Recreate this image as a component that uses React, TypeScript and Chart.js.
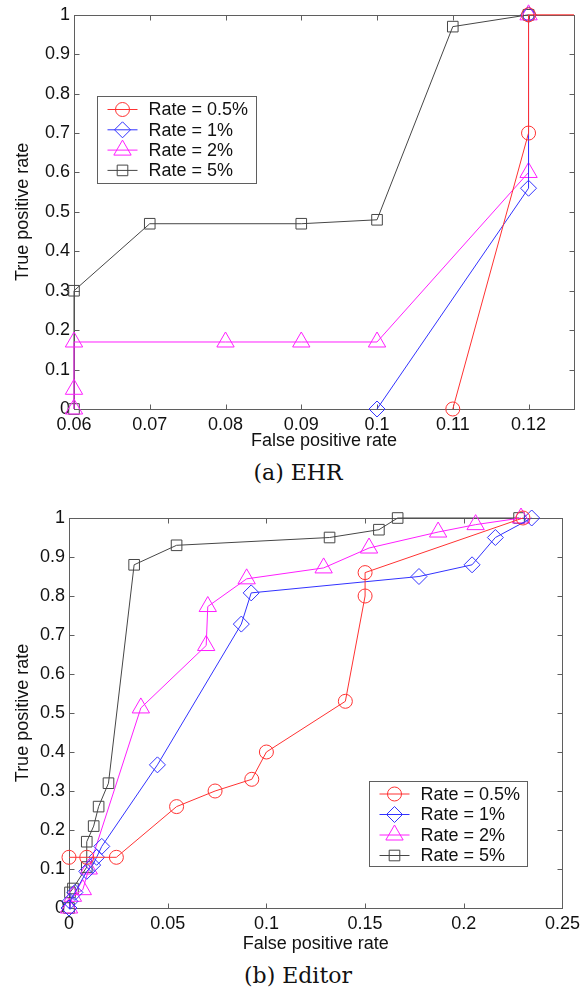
import React, { useEffect, useRef } from 'react';
import { Chart, registerables } from 'chart.js';
import { drawPoint } from 'chart.js/helpers';

Chart.register(...registerables);

// ---------- shared series styling ----------
const SERIES_NAMES = ['Rate = 0.5%', 'Rate = 1%', 'Rate = 2%', 'Rate = 5%'];
const SERIES_COLORS = ['rgb(255,50,50)', 'rgb(50,50,255)', 'rgb(255,30,255)', 'rgb(70,70,70)'];
const POINT_STYLES = ['circle', 'rectRot', 'triangle', 'rect'];
const POINT_RADII = [7, 8, 10, 7.5];

// ---------- (a) EHR ----------
const EHR_X_TICKS = [0.06, 0.07, 0.08, 0.09, 0.1, 0.11, 0.12];
const EHR_Y_TICKS = [0, 0.1, 0.2, 0.3, 0.4, 0.5, 0.6, 0.7, 0.8, 0.9, 1];
const EHR_R05_X = [0.11, 0.12, 0.12, 1];
const EHR_R05_Y = [0, 0.7, 1, 1];
const EHR_R1_X = [0.1, 0.12, 0.12];
const EHR_R1_Y = [0, 0.56, 1];
const EHR_R2_X = [0.06, 0.06, 0.06, 0.08, 0.09, 0.1, 0.12, 0.12];
const EHR_R2_Y = [0, 0.05, 0.17, 0.17, 0.17, 0.17, 0.6, 1];
const EHR_R5_X = [0.06, 0.06, 0.07, 0.09, 0.1, 0.11, 0.12];
const EHR_R5_Y = [0, 0.3, 0.47, 0.47, 0.48, 0.97, 1];

// ---------- (b) Editor ----------
const ED_X_TICKS = [0, 0.05, 0.1, 0.15, 0.2, 0.25];
const ED_Y_TICKS = [0, 0.1, 0.2, 0.3, 0.4, 0.5, 0.6, 0.7, 0.8, 0.9, 1];
const ED_R05_X = [0, 0.009, 0.024, 0.0545, 0.074, 0.0926, 0.1, 0.14, 0.15, 0.15, 0.23];
const ED_R05_Y = [0.13, 0.13, 0.13, 0.26, 0.3, 0.33, 0.4, 0.53, 0.8, 0.86, 1];
const ED_R1_X = [0, 0.0005, 0.003, 0.009, 0.012, 0.014, 0.0166, 0.0448, 0.0873, 0.0923, 0.1773, 0.2042, 0.216, 0.2344];
const ED_R1_Y = [0, 0.017, 0.04, 0.094, 0.11, 0.13, 0.158, 0.367, 0.728, 0.808, 0.85, 0.88, 0.95, 1];
const ED_R2_X = [0, 0.002, 0.007, 0.01, 0.0364, 0.0695, 0.0703, 0.09, 0.129, 0.152, 0.187, 0.206, 0.229];
const ED_R2_Y = [0, 0.03, 0.047, 0.1, 0.513, 0.673, 0.773, 0.844, 0.872, 0.923, 0.964, 0.983, 1];
const ED_R5_X = [0, 0.0005, 0.002, 0.009, 0.009, 0.0125, 0.015, 0.02, 0.033, 0.0545, 0.132, 0.157, 0.1665, 0.228];
const ED_R5_Y = [0, 0.04, 0.05, 0.105, 0.17, 0.21, 0.26, 0.32, 0.88, 0.93, 0.95, 0.97, 1, 1];

const FONT_FAMILY = '"Liberation Sans", Arial, Helvetica, sans-serif';
const AXIS_COLOR = 'rgb(95,95,95)';

const zip = (xs: number[], ys: number[]) => xs.map((x, i) => ({ x, y: ys[i] }));
const fmt = (v: number) => String(Number(Number(v).toFixed(4)));

const framePlugin = {
  id: 'frameTicks',
  beforeDatasetsDraw(chart: any) {
    const { ctx, chartArea: a, scales } = chart;
    const tl = 5;
    ctx.save();
    ctx.strokeStyle = AXIS_COLOR;
    ctx.lineWidth = 1;
    const L = Math.round(a.left) + 0.5;
    const R = Math.round(a.right) + 0.5;
    const T = Math.round(a.top) + 0.5;
    const B = Math.round(a.bottom) + 0.5;
    ctx.strokeRect(L, T, R - L, B - T);
    ctx.beginPath();
    scales.x.ticks.forEach((t: any) => {
      const px = Math.round(scales.x.getPixelForValue(t.value)) + 0.5;
      ctx.moveTo(px, B);
      ctx.lineTo(px, B - tl);
      ctx.moveTo(px, T);
      ctx.lineTo(px, T + tl);
    });
    scales.y.ticks.forEach((t: any) => {
      const py = Math.round(scales.y.getPixelForValue(t.value)) + 0.5;
      ctx.moveTo(L, py);
      ctx.lineTo(L + tl, py);
      ctx.moveTo(R, py);
      ctx.lineTo(R - tl, py);
    });
    ctx.stroke();
    ctx.restore();
  },
};

const legendPlugin = {
  id: 'boxLegend',
  afterDatasetsDraw(chart: any, _args: any, opts: any) {
    const { ctx, chartArea: a } = chart;
    const left = Math.round(a.left + opts.dx) + 0.5;
    const top = Math.round(a.top + opts.dy) + 0.5;
    ctx.save();
    ctx.fillStyle = '#fff';
    ctx.fillRect(left, top, opts.w, opts.h);
    ctx.strokeStyle = AXIS_COLOR;
    ctx.lineWidth = 1;
    ctx.strokeRect(left, top, opts.w, opts.h);
    chart.data.datasets.forEach((ds: any, i: number) => {
      const cy = top + opts.firstRow + i * opts.rowStep;
      ctx.strokeStyle = ds.borderColor;
      ctx.lineWidth = 1;
      ctx.beginPath();
      ctx.moveTo(left + 10, cy);
      ctx.lineTo(left + 40, cy);
      ctx.stroke();
      ctx.fillStyle = 'rgba(0,0,0,0)';
      drawPoint(ctx, { pointStyle: ds.pointStyle, radius: ds.pointRadius, borderWidth: 1, rotation: 0 }, left + 25, cy);
      ctx.fillStyle = '#111';
      ctx.font = `18px ${FONT_FAMILY}`;
      ctx.textBaseline = 'middle';
      ctx.textAlign = 'left';
      ctx.fillText(SERIES_NAMES[i], left + 51, cy + 1);
    });
    ctx.restore();
  },
};

function makeConfig(p: any): any {
  const datasets = p.series.map((pts: any[], i: number) => ({
    label: SERIES_NAMES[i],
    data: pts,
    borderColor: SERIES_COLORS[i],
    backgroundColor: 'rgba(0,0,0,0)',
    borderWidth: 1,
    pointStyle: POINT_STYLES[i],
    pointRadius: POINT_RADII[i],
    pointBorderWidth: 1,
    pointBorderColor: SERIES_COLORS[i],
    pointBackgroundColor: 'rgba(0,0,0,0)',
    tension: 0,
    clip: p.clip,
    showLine: true,
  }));
  return {
    type: 'scatter',
    data: { datasets },
    options: {
      animation: false,
      responsive: false,
      events: [],
      layout: { padding: p.padding },
      plugins: {
        legend: { display: false },
        tooltip: { enabled: false },
        boxLegend: p.legend,
      },
      scales: {
        x: {
          type: 'linear',
          min: p.xMin,
          max: p.xMax,
          grid: { display: false, drawTicks: false },
          border: { display: false },
          afterBuildTicks: (s: any) => {
            s.ticks = p.xTicks.map((v: number) => ({ value: v }));
          },
          afterFit: (s: any) => {
            s.height = p.xHeight;
          },
          ticks: {
            autoSkip: false,
            maxRotation: 0,
            padding: p.xTickPad,
            color: '#111',
            font: { size: 18, family: FONT_FAMILY },
            callback: (v: any) => fmt(v),
          },
          title: {
            display: true,
            text: 'False positive rate',
            color: '#111',
            font: { size: 18, family: FONT_FAMILY },
            padding: { top: 0, bottom: p.xTitlePad },
          },
        },
        y: {
          type: 'linear',
          min: 0,
          max: 1,
          grid: { display: false, drawTicks: false },
          border: { display: false },
          afterBuildTicks: (s: any) => {
            s.ticks = p.yTicks.map((v: number) => ({ value: v }));
          },
          afterFit: (s: any) => {
            s.width = p.yWidth;
          },
          ticks: {
            autoSkip: false,
            padding: 4,
            color: '#111',
            font: { size: 18, family: FONT_FAMILY },
            callback: (v: any) => fmt(v),
          },
          title: {
            display: true,
            text: 'True positive rate',
            color: '#111',
            font: { size: 18, family: FONT_FAMILY },
            padding: { top: 12, bottom: 0 },
          },
        },
      },
    },
    plugins: [framePlugin, legendPlugin],
  };
}

function RocChart({ config, width, height, top }: any) {
  const ref = useRef<HTMLCanvasElement>(null);
  useEffect(() => {
    const chart = new Chart(ref.current as HTMLCanvasElement, config);
    return () => chart.destroy();
  }, []);
  return (
    <canvas
      ref={ref}
      width={width}
      height={height}
      style={{ position: 'absolute', left: 0, top, width, height, display: 'block' }}
    />
  );
}

const ehrConfig = makeConfig({
  series: [zip(EHR_R05_X, EHR_R05_Y), zip(EHR_R1_X, EHR_R1_Y), zip(EHR_R2_X, EHR_R2_Y), zip(EHR_R5_X, EHR_R5_Y)],
  xMin: 0.06,
  xMax: 0.126,
  xTicks: EHR_X_TICKS,
  yTicks: EHR_Y_TICKS,
  padding: { left: 0, top: 14, right: 8, bottom: 0 },
  yWidth: 74,
  xHeight: 46,
  xTickPad: 5,
  xTitlePad: 3,
  clip: { left: false, top: false, right: 0, bottom: false },
  legend: { dx: 23, dy: 81, w: 159, h: 87, firstRow: 13, rowStep: 20.3 },
});

const editorConfig = makeConfig({
  series: [zip(ED_R05_X, ED_R05_Y), zip(ED_R1_X, ED_R1_Y), zip(ED_R2_X, ED_R2_Y), zip(ED_R5_X, ED_R5_Y)],
  xMin: 0,
  xMax: 0.25,
  xTicks: ED_X_TICKS,
  yTicks: ED_Y_TICKS,
  padding: { left: 0, top: 28, right: 19, bottom: 0 },
  yWidth: 69,
  xHeight: 47,
  xTickPad: 5,
  xTitlePad: 0,
  clip: false,
  legend: { dx: 300, dy: 262.5, w: 158, h: 85, firstRow: 12.5, rowStep: 20.5 },
});

const captionStyle: any = {
  position: 'absolute',
  left: 0,
  width: 596,
  textAlign: 'center',
  fontFamily: '"DejaVu Serif", "Liberation Serif", serif',
  fontSize: 22,
  lineHeight: '24px',
  color: '#111',
};

export default function App() {
  return (
    <div style={{ position: 'absolute', left: 0, top: 0, width: 585, height: 994, background: '#fff', overflow: 'hidden' }}>
      <RocChart config={ehrConfig} width={585} height={455} top={0} />
      <div style={{ ...captionStyle, top: 461 }}>(a) EHR</div>
      <RocChart config={editorConfig} width={585} height={465} top={490} />
      <div style={{ ...captionStyle, top: 964 }}>(b) Editor</div>
    </div>
  );
}
